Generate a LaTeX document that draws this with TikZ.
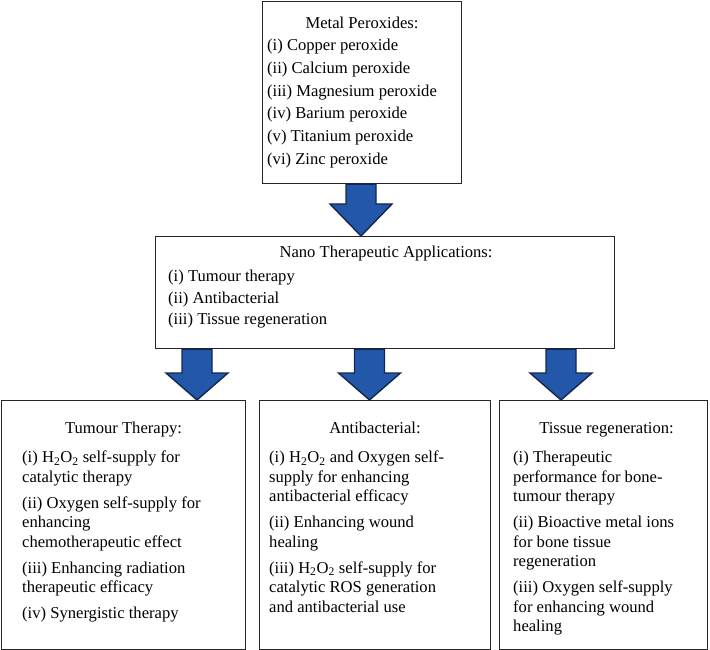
\documentclass[tikz,border=0pt]{standalone}
\usepackage{fontspec}
\setmainfont{Liberation Serif}
\usetikzlibrary{positioning, calc}

\definecolor{arrowblue}{RGB}{35,87,170}
\definecolor{arrowedge}{RGB}{22,38,80}

% block arrow: x coordinate, from node, to node, head length
\newcommand{\blockarr}[4]{%
    \path (#2.south -| #1) coordinate (s) (#3.north -| #1) coordinate (t);
    \draw[bigarrow] ($(s)+(-15,0)$) -- ($(t)+(-15,-#4)$) -- ($(t)+(-31,-#4)$) -- (t)
        -- ($(t)+(31,-#4)$) -- ($(t)+(15,-#4)$) -- ($(s)+(15,0)$) -- cycle;}

\begin{document}
\begin{tikzpicture}[x=1pt, y=-1pt]
    \tikzstyle{panel} = [rectangle, draw=black!85, line width=1.1pt, anchor=north west, inner sep=0pt]
    \tikzstyle{head} = [anchor=base, inner sep=0pt, font=\fontsize{16.6}{19.5}\selectfont]
    \tikzstyle{items} = [anchor=north west, inner sep=0pt, align=left, font=\fontsize{16.6}{19.5}\selectfont]
    \tikzstyle{bigarrow} = [fill=arrowblue, draw=arrowedge, line width=1.4pt, line join=miter]

    \useasboundingbox (0,0) rectangle (710,650);

    % Define boxes
    \node[panel, minimum width=199pt, minimum height=182pt] (metal) at (262,1) {};
    \node[panel, minimum width=459pt, minimum height=112pt] (nano) at (155,236) {};
    \node[panel, minimum width=244pt, minimum height=249pt] (tumour) at (1,400) {};
    \node[panel, minimum width=231pt, minimum height=249pt] (anti) at (259,400) {};
    \node[panel, minimum width=208pt, minimum height=249pt] (tissue) at (499,400) {};

    % Box texts
    \node[head] (metalT) at ($(metal.north)+(0,28)$) {Metal Peroxides:};
    \node[items, font=\fontsize{16.6}{22.7}\selectfont] (metalL) at ($(metal.north west)+(5,38)$)
        {(i) Copper peroxide\\(ii) Calcium peroxide\\(iii) Magnesium peroxide\\(iv) Barium peroxide\\(v) Titanium peroxide\\(vi) Zinc peroxide};

    \node[head] (nanoT) at ($(nano.north)+(1,21)$) {Nano Therapeutic Applications:};
    \node[items, font=\fontsize{16.6}{21.5}\selectfont] (nanoL) at ($(nano.north west)+(13,34)$)
        {(i) Tumour therapy\\(ii) Antibacterial\\(iii) Tissue regeneration};

    \node[head] (tumourT) at ($(tumour.north)+(0,33)$) {Tumour Therapy:};
    \node[items] (tumourL) at ($(tumour.north west)+(21,51)$)
        {(i) H\textsubscript{2}O\textsubscript{2} self-supply for\\catalytic therapy\\[6.5pt]
         (ii) Oxygen self-supply for\\enhancing\\chemotherapeutic effect\\[6.5pt]
         (iii) Enhancing radiation\\therapeutic efficacy\\[6.5pt]
         (iv) Synergistic therapy};

    \node[head] (antiT) at ($(anti.north)+(0,33)$) {Antibacterial:};
    \node[items] (antiL) at ($(anti.north west)+(10,51)$)
        {(i) H\textsubscript{2}O\textsubscript{2} and Oxygen self-\\supply for enhancing\\antibacterial efficacy\\[6.5pt]
         (ii) Enhancing wound\\healing\\[6.5pt]
         (iii) H\textsubscript{2}O\textsubscript{2} self-supply for\\catalytic ROS generation\\and antibacterial use};

    \node[head] (tissueT) at ($(tissue.north)+(3,33)$) {Tissue regeneration:};
    \node[items] (tissueL) at ($(tissue.north west)+(14,51)$)
        {(i) Therapeutic\\performance for bone-\\tumour therapy\\[6.5pt]
         (ii) Bioactive metal ions\\for bone tissue\\regeneration\\[6.5pt]
         (iii) Oxygen self-supply\\for enhancing wound\\healing};

    % Draw arrows
    \coordinate (a0) at (361,0);
    \coordinate (a1) at (197,0);
    \coordinate (a2) at (369.5,0);
    \coordinate (a3) at (561,0);
    \blockarr{a0}{metal}{nano}{32}
    \blockarr{a1}{nano}{tumour}{27}
    \blockarr{a2}{nano}{anti}{27}
    \blockarr{a3}{nano}{tissue}{27}
\end{tikzpicture}
\end{document}
